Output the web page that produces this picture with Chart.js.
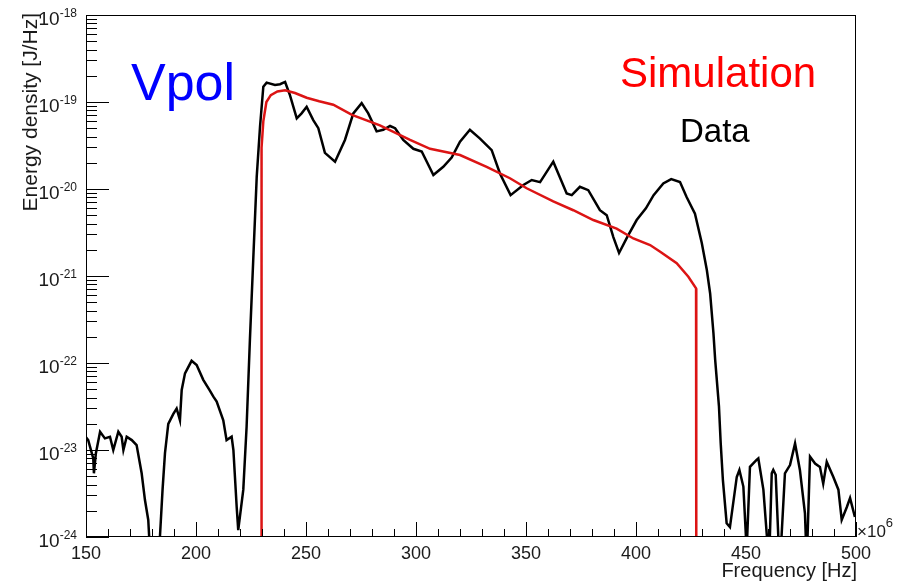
<!DOCTYPE html>
<html><head><meta charset="utf-8">
<script src="https://cdn.jsdelivr.net/npm/chart.js@4/dist/chart.umd.min.js"></script>
<style>html,body{margin:0;padding:0;background:#fff}#wrap{width:910px;height:587px;position:relative}</style>
</head><body><div id="wrap"><canvas id="c" width="910" height="587"></canvas></div>
<script>
// ---- data (frequency in MHz, energy density in J/Hz) ----
const dataFreqMHz = [150.0,151.0,153.3,153.6,154.5,156.4,158.6,160.9,162.4,164.7,166.2,167.0,168.5,170.8,173.0,175.3,176.8,178.3,179.2,183.3,183.6,184.8,185.9,187.4,189.7,191.2,192.7,193.5,195.0,198.0,200.3,203.3,206.1,207.9,209.4,212.4,213.9,216.2,217.0,218.5,219.2,221.5,223.0,224.5,226.0,227.6,229.1,230.6,232.1,235.9,238.2,240.5,242.7,245.8,248.0,250.3,253.3,255.6,258.6,263.2,267.7,271.5,275.3,278.3,282.1,285.1,288.2,290.5,294.2,298.8,302.6,307.9,312.4,316.2,320.0,324.5,329.1,334.4,338.2,343.0,348.8,352.6,356.4,362.4,368.5,370.8,374.5,378.3,383.6,386.7,389.7,392.3,396.0,400.3,404.5,408.0,412.4,416.0,420.0,423.0,426.8,429.9,432.2,433.7,435.2,436.0,437.7,438.5,439.5,441.2,442.7,445.8,447.0,448.8,450.3,451.8,454.8,455.6,457.9,459.4,460.5,461.7,462.4,463.5,464.7,465.5,467.7,470.0,472.3,474.5,476.8,477.6,479.1,481.4,483.6,485.1,486.7,489.7,492.0,493.5,495.8,497.3,499.5];
const dataEnergy = [1.4e-23,1.3e-23,8.0e-24,5.4e-24,9.2e-24,1.62e-23,1.36e-23,1.42e-23,1.0e-23,1.62e-23,1.42e-23,1.0e-23,1.42e-23,1.3e-23,1.14e-23,5.4e-24,2.66e-24,1.57e-24,6e-25,6e-25,1.0e-24,3.5e-24,9.2e-24,2.0e-23,2.6e-23,3.0e-23,2.2e-23,4.9e-23,7.6e-23,1.06e-22,9.5e-23,6.4e-23,4.9e-23,4.1e-23,3.6e-23,2.2e-23,1.3e-23,1.42e-23,1.0e-23,2.2e-24,1.2e-24,3.5e-24,1.85e-23,1.84e-22,1.5e-21,1.38e-20,5.2e-20,1.5e-19,1.67e-19,1.57e-19,1.6e-19,1.7e-19,1.2e-19,6.5e-20,7.4e-20,8.8e-20,6.2e-20,5.0e-20,2.6e-20,2.06e-20,3.66e-20,7.4e-20,9.7e-20,7.4e-20,4.6e-20,4.8e-20,5.3e-20,5.0e-20,3.66e-20,2.9e-20,2.7e-20,1.45e-20,1.8e-20,2.3e-20,3.5e-20,4.8e-20,3.8e-20,2.8e-20,1.5e-20,8.5e-21,1.11e-20,1.27e-20,1.2e-20,2.06e-20,8.9e-21,8.5e-21,1.06e-20,9.7e-21,5.7e-21,5.0e-21,2.8e-21,1.84e-21,2.8e-21,4.4e-21,6.0e-21,8.5e-21,1.16e-20,1.3e-20,1.2e-20,8.1e-21,5.2e-21,2.4e-21,1.17e-21,6.3e-22,2.2e-22,1.08e-22,3.2e-23,1.2e-23,4.5e-24,1.44e-24,1.3e-24,4.9e-24,5.9e-24,3.8e-24,7e-25,6.4e-24,7.7e-24,8.0e-24,3.5e-24,1.1e-24,5e-25,5.4e-24,5.9e-24,5.2e-24,1.0e-24,5e-25,5.4e-24,6.7e-24,1.19e-23,5.9e-24,1.87e-24,5e-25,8.4e-24,7.0e-24,6.4e-24,4.1e-24,7.3e-24,4.9e-24,3.5e-24,1.57e-24,2.2e-24,2.8e-24,1.7e-24];
const simFreqMHz = [229.7,229.8,230.6,232.0,234.0,237.0,240.5,245.0,250.3,256.0,262.4,270.9,283.6,297.3,306.4,320.0,332.1,342.7,350.3,362.4,371.5,380.6,391.2,398.8,406.4,411.0,418.5,423.8,427.3,427.4];
const simEnergy = [5e-25,3e-20,6e-20,1.0e-19,1.2e-19,1.32e-19,1.36e-19,1.27e-19,1.12e-19,1.02e-19,9.3e-20,7.1e-20,5.4e-20,3.66e-20,2.9e-20,2.46e-20,1.8e-20,1.33e-20,1.02e-20,7.2e-21,5.7e-21,4.4e-21,3.5e-21,2.7e-21,2.27e-21,1.9e-21,1.4e-21,9.8e-22,7.2e-22,5e-25];
const xTickValues = [150,200,250,300,350,400,450,500];
const xTickLabels = ['150','200','250','300','350','400','450','500'];
const yDecadeExponents = [-24,-23,-22,-21,-20,-19,-18];
const xTitle = 'Frequency [Hz]';
const yTitle = 'Energy density [J/Hz]';
const seriesNames = ['Simulation','Data'];
const panelLabel = 'Vpol';

const FONT = '"Liberation Sans", Arial, Helvetica, sans-serif';
const zip = (xs, ys) => xs.map((v, i) => ({x: v, y: ys[i]}));

const rootAxes = {
  id: 'rootAxes',
  afterDatasetsDraw(chart) {
    const {ctx, chartArea: a, scales: {x, y}} = chart;
    ctx.save();
    ctx.strokeStyle = '#000';
    ctx.lineWidth = 1;
    ctx.strokeRect(a.left + 0.5, a.top + 0.5, a.right - a.left - 1, a.bottom - a.top - 1);
    ctx.beginPath();
    for (let v = xTickValues[0]; v <= xTickValues[xTickValues.length - 1]; v += 10) {
      const px = Math.round(x.getPixelForValue(v)) + 0.5;
      const len = xTickValues.includes(v) ? 15 : 8;
      ctx.moveTo(px, a.bottom); ctx.lineTo(px, a.bottom - len);
    }
    for (let i = 0; i < yDecadeExponents.length; i++) {
      const e = yDecadeExponents[i];
      for (let m = 1; m <= 9; m++) {
        if (m > 1 && i === yDecadeExponents.length - 1) break;
        const py = Math.round(y.getPixelForValue(m * Math.pow(10, e))) + 0.5;
        const len = m === 1 ? 23 : 11;
        ctx.moveTo(a.left, py); ctx.lineTo(a.left + len, py);
      }
    }
    ctx.stroke();
    ctx.restore();
  },
  afterDraw(chart) {
    const {ctx, chartArea: a, scales: {x, y}} = chart;
    ctx.save();
    ctx.fillStyle = '#1a1a1a';
    ctx.font = '18px ' + FONT;
    ctx.textAlign = 'center';
    ctx.textBaseline = 'alphabetic';
    xTickValues.forEach((v, i) => {
      ctx.fillText(xTickLabels[i], x.getPixelForValue(v), a.bottom + 21.5);
    });
    yDecadeExponents.forEach(e => {
      const py = y.getPixelForValue(Math.pow(10, e));
      ctx.font = '12px ' + FONT;
      ctx.textAlign = 'right';
      const sup = String(e);
      const supW = ctx.measureText(sup).width;
      ctx.fillText(sup, 77, py + 2);
      ctx.font = '19px ' + FONT;
      ctx.fillText('10', 77 - supW, py + 10);
    });
    ctx.textAlign = 'left';
    ctx.font = '17px ' + FONT;
    ctx.fillText('\u00d710', a.right + 1, a.bottom);
    const w10 = ctx.measureText('\u00d710').width;
    ctx.font = '13px ' + FONT;
    ctx.fillText('6', a.right + 1 + w10, a.bottom - 10);
    ctx.font = '20px ' + FONT;
    ctx.textAlign = 'right';
    ctx.fillText(xTitle, a.right + 1, 577);
    ctx.save();
    ctx.translate(36.5, 13);
    ctx.rotate(-Math.PI / 2);
    ctx.font = '21px ' + FONT;
    ctx.textAlign = 'right';
    ctx.fillText(yTitle, 0, 0);
    ctx.restore();
    ctx.textAlign = 'left';
    ctx.font = '52px ' + FONT;
    ctx.fillStyle = '#0000ff';
    ctx.fillText(panelLabel, 131, 100);
    ctx.font = '42px ' + FONT;
    ctx.fillStyle = '#ff0000';
    ctx.fillText(seriesNames[0], 620, 87);
    ctx.font = '33px ' + FONT;
    ctx.fillStyle = '#000000';
    ctx.fillText(seriesNames[1], 680, 142);
    ctx.restore();
  }
};

new Chart(document.getElementById('c'), {
  type: 'line',
  data: {
    datasets: [
      {label: seriesNames[0], data: zip(simFreqMHz, simEnergy), borderColor: '#dc1414', borderWidth: 2.5, pointRadius: 0, tension: 0, fill: false},
      {label: seriesNames[1], data: zip(dataFreqMHz, dataEnergy), borderColor: '#000000', borderWidth: 2.5, pointRadius: 0, tension: 0, fill: false}
    ]
  },
  options: {
    responsive: false,
    animation: false,
    devicePixelRatio: 1,
    layout: {padding: {left: 86, top: 15, right: 54, bottom: 50}},
    plugins: {legend: {display: false}, tooltip: {enabled: false}},
    scales: {
      x: {type: 'linear', min: 150, max: 500, display: false},
      y: {type: 'logarithmic', min: 1e-24, max: 1e-18, display: false}
    }
  },
  plugins: [rootAxes]
});
</script>
</body></html>
